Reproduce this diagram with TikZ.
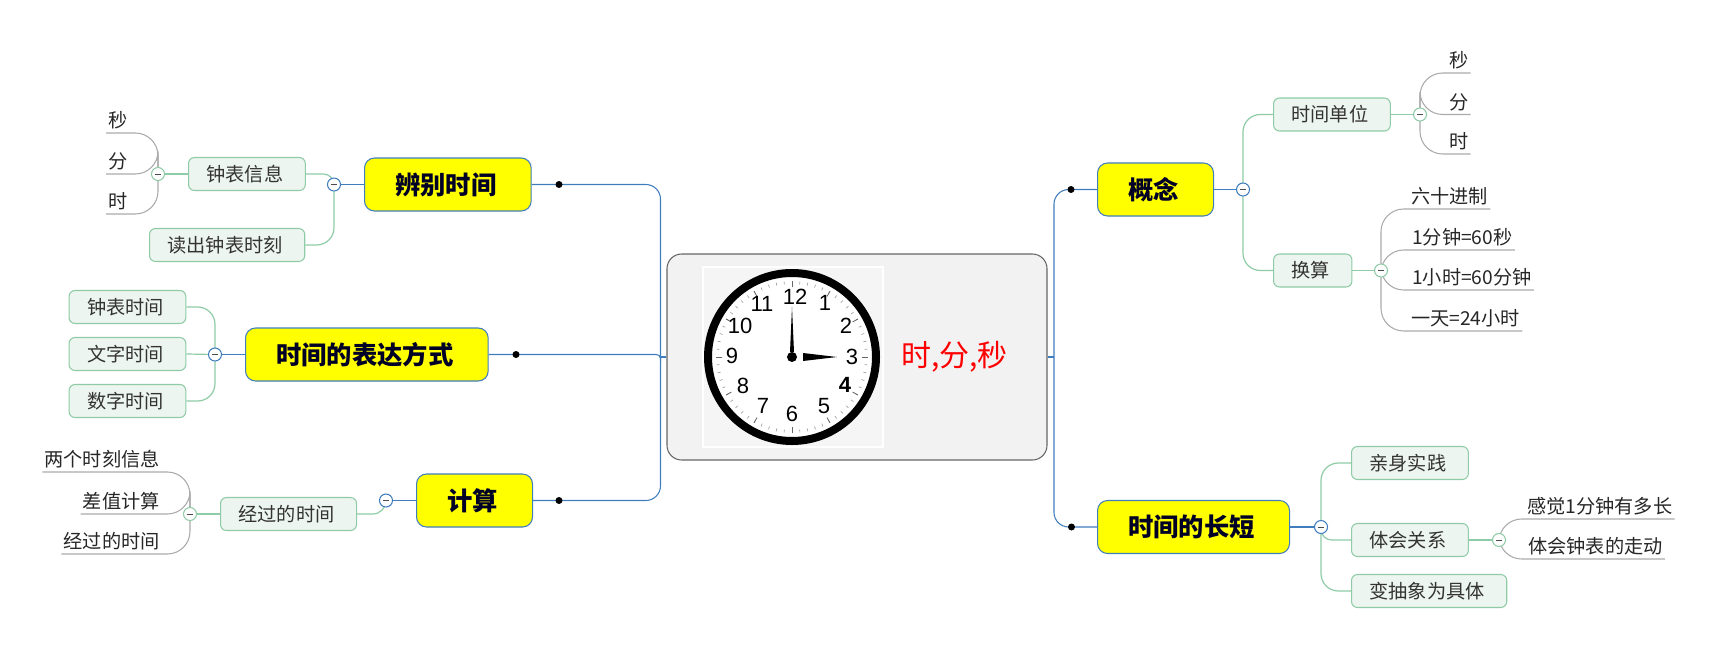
\documentclass[tikz,border=0pt]{standalone}
\usepackage{fontspec}
\setmainfont{Noto Sans CJK SC}
\newfontfamily\clockfont{Liberation Sans}
\usetikzlibrary{backgrounds}
\definecolor{bluebr}{HTML}{3F7DBD}
\definecolor{greenbr}{HTML}{8FCBA6}
\definecolor{graybr}{HTML}{ABABAB}
\definecolor{subfill}{HTML}{EDF5F0}
\definecolor{topicfill}{RGB}{255,255,0}
\tikzset{
  rootbox/.style={draw=black!60,fill=black!5,rounded corners=11,line width=0.8pt,minimum width=285,minimum height=154.5},
  shifted/.style={execute at begin node=\hspace*{-1.5pt},execute at end node=\hspace*{1.5pt}},
  topicbox/.style={shifted,draw=bluebr,fill=topicfill,rounded corners=7.5,line width=0.8pt,anchor=west,font=\fontsize{19}{22}\selectfont\bfseries,text=black!85!blue,inner xsep=24.5pt,inner ysep=0pt,minimum height=39.75pt},
  subbox/.style={shifted,draw=greenbr,fill=subfill,rounded corners=4.5,line width=0.8pt,anchor=west,font=\fontsize{14.4}{17}\selectfont,text=black!80,inner xsep=15pt,inner ysep=0pt,minimum height=24.75pt},
  leaf/.style={font=\fontsize{14.4}{17}\selectfont,text=black!85,inner xsep=1.5pt,inner ysep=1.5pt,text height=12pt,text depth=2.1pt},
  hub/.style={circle,fill=black,inner sep=0pt,minimum size=5.25pt},
  foldmark/.style={circle,fill=white,draw=#1,line width=0.8pt,inner sep=0pt,minimum size=9.75pt,
    path picture={\draw[line width=0.7pt,black!70] ([xshift=-2.4pt]path picture bounding box.center) -- ([xshift=2.4pt]path picture bounding box.center);}},
  mainbr/.style={draw=bluebr,line width=0.8pt,rounded corners=11},
  subbr/.style={draw=greenbr,line width=0.9pt,rounded corners=13},
  leafbr/.style={draw=graybr,line width=0.8pt,rounded corners=17},
}
\begin{document}
\begin{tikzpicture}[x=0.75pt,y=0.75pt,yscale=-1,xscale=1]
\useasboundingbox (0,0) rectangle (1718,664);

%Shape: central box
\node[rootbox] (central) at (857,357) {};
\coordinate (trunkl) at (660.5,357);
\coordinate (trunkr) at (1054,357);

%Shape: clock picture
\fill[black!4,draw=white,line width=1.5pt] (703,267) rectangle (883,447);
\draw[fill=white,line width=6pt] (792,357) circle [radius=84];
\foreach \a in {0,6,...,354}
  \draw[black!45,line width=0.4pt] (792,357) ++(\a:73) -- ++(\a:3);
\foreach \a in {0,30,...,330}
  \draw[black!60,line width=0.6pt] (792,357) ++(\a:70) -- ++(\a:6);
\foreach \n/\x/\y in {12/795/297,1/825/303,2/846/326,3/852/357,5/824/406,6/792/414,7/763/406,8/743/386,9/732/356,10/740/326,11/762/304}
  \node[font=\clockfont\fontsize{16.5}{18}\selectfont,inner sep=0pt] (num\n) at (\x,\y) {\n};
\node[font=\clockfont\fontsize{16.5}{18}\selectfont\bfseries,inner sep=0pt] (num4) at (845,385) {4};
\fill (792,307) -- (790,352) -- (794,352) -- cycle;
\fill (837,357) -- (803,353) -- (803,361) -- cycle;
\fill (792,357) circle [radius=5];

% Text Node
\node[anchor=west,inner sep=0pt,text=red,font=\fontsize{22.5}{26}\selectfont] (title) at (901,357) {时,分,秒};

% Text Node: main topics
\node[topicbox] (bianbie) at (364,184.5) {辨别时间};
\node[topicbox] (biaoda) at (245,354.5) {时间的表达方式};
\node[topicbox] (jisuan) at (416,500.5) {计算};
\node[topicbox] (gainian) at (1097,189.5) {概念};
\node[topicbox] (changduan) at (1097,527) {时间的长短};

% Text Node: sub topics
\node[subbox] (zhongbiao) at (188,174) {钟表信息};
\node[subbox] (duchu) at (149,245) {读出钟表时刻};
\node[subbox] (zbtime) at (68.5,307) {钟表时间};
\node[subbox] (wztime) at (68.5,354) {文字时间};
\node[subbox] (sztime) at (68.5,401) {数字时间};
\node[subbox] (jingguo) at (220,514) {经过的时间};
\node[subbox] (danwei) at (1273,114.5) {时间单位};
\node[subbox] (huansuan) at (1273,270.5) {换算};
\node[subbox] (qinshen) at (1351,463) {亲身实践};
\node[subbox] (tihui) at (1351,540) {体会关系};
\node[subbox] (bian) at (1351,591) {变抽象为具体};

% Text Node: leaves
\node[leaf,anchor=south west] (lmiao) at (106,133) {秒};
\node[leaf,anchor=south west] (lfen) at (106,174) {分};
\node[leaf,anchor=south west] (lshi) at (106,214) {时};
\node[leaf,anchor=south east] (liangge) at (162,472) {两个时刻信息};
\node[leaf,anchor=south east] (chazhi) at (162,514) {差值计算};
\node[leaf,anchor=south east] (jgtime) at (162,554) {经过的时间};
\node[leaf,anchor=south west] (rmiao) at (1447,73) {秒};
\node[leaf,anchor=south west] (rfen) at (1447,114.5) {分};
\node[leaf,anchor=south west] (rshi) at (1447,154) {时};
\node[leaf,anchor=south west] (liushi) at (1409,209) {六十进制};
\node[leaf,anchor=south west] (yifen) at (1410,250) {1分钟=60秒};
\node[leaf,anchor=south west] (yixiao) at (1410,290) {1小时=60分钟};
\node[leaf,anchor=south west] (yitian) at (1409,331) {一天=24小时};
\node[leaf,anchor=south west] (ganjue) at (1525,519) {感觉1分钟有多长};
\node[leaf,anchor=south west] (zoudong) at (1526,559) {体会钟表的走动};

%Shape: Circle
\node[hub] (hbian) at (559,184.5) {};
\node[hub] (hbiao) at (516,354.5) {};
\node[hub] (hji) at (559,500.5) {};
\node[hub] (hgai) at (1071,189.5) {};
\node[hub] (hchang) at (1071.5,527) {};
\node[foldmark=bluebr] (fbian) at (334,184.5) {};
\node[foldmark=bluebr] (fbiao) at (215,354.5) {};
\node[foldmark=bluebr] (fji) at (386,500.5) {};
\node[foldmark=bluebr] (fgai) at (1243,189.5) {};
\node[foldmark=bluebr] (fchang) at (1321,527) {};
\node[foldmark=greenbr] (fzhong) at (158,174) {};
\node[foldmark=greenbr] (fjing) at (190,514) {};
\node[foldmark=greenbr] (fdan) at (1420,114.5) {};
\node[foldmark=greenbr] (fhuan) at (1381,270.5) {};
\node[foldmark=greenbr] (fti) at (1499,540) {};

\begin{scope}[on background layer]
%Straight Lines
\draw[mainbr] (central.west) -- (trunkl);
\draw[mainbr] (central.east) -- (trunkr);
\draw[mainbr] (trunkl) |- (bianbie.east);
\draw[mainbr,rounded corners=3] (trunkl) |- (biaoda.east);
\draw[mainbr] (trunkl) |- (jisuan.east);
\draw[mainbr] (trunkr) |- (gainian.west);
\draw[mainbr] (trunkr) |- (changduan.west);
\draw[mainbr] (bianbie.west) -- (fbian.center);
\draw[mainbr] (biaoda.west) -- (fbiao.center);
\draw[mainbr] (jisuan.west) -- (fji.center);
\draw[mainbr] (gainian.east) -- (fgai.center);
\draw[mainbr] (changduan.east) -- (fchang.center);
\draw[subbr,rounded corners=8] (fbian.center) |- (zhongbiao.east);
\draw[subbr] (fbian.center) |- (duchu.east);
\draw[subbr] (fbiao.center) |- (zbtime.east);
\draw[subbr] (fbiao.center) -- (wztime.east);
\draw[subbr] (fbiao.center) |- (sztime.east);
\draw[subbr,rounded corners=10] (fji.center) |- (jingguo.east);
\draw[subbr] (fgai.center) |- (danwei.west);
\draw[subbr] (fgai.center) |- (huansuan.west);
\draw[subbr] (fchang.center) |- (qinshen.west);
\draw[subbr,rounded corners=8] (fchang.center) |- (tihui.west);
\draw[subbr] (fchang.center) |- (bian.west);
\draw[subbr] (zhongbiao.west) -- (fzhong.center);
\draw[subbr] (jingguo.west) -- (fjing.center);
\draw[subbr] (danwei.east) -- (fdan.center);
\draw[subbr] (huansuan.east) -- (fhuan.center);
\draw[subbr] (tihui.east) -- (fti.center);
\draw[leafbr] (fzhong.center) |- (lmiao.south west);
\draw[leafbr] (fzhong.center) |- (lfen.south west);
\draw[leafbr] (fzhong.center) |- (lshi.south west);
\draw[leafbr] (fjing.center) |- (liangge.south west);
\draw[leafbr] (fjing.center) |- (chazhi.south west);
\draw[leafbr] (fjing.center) |- (jgtime.south west);
\draw[leafbr] (fdan.center) |- (rmiao.south east);
\draw[leafbr] (fdan.center) |- (rfen.south east);
\draw[leafbr] (fdan.center) |- (rshi.south east);
\draw[leafbr] (fhuan.center) |- (liushi.south east);
\draw[leafbr] (fhuan.center) |- (yifen.south east);
\draw[leafbr] (fhuan.center) |- (yixiao.south east);
\draw[leafbr] (fhuan.center) |- (yitian.south east);
\draw[leafbr] (fti.center) |- (ganjue.south east);
\draw[leafbr] (fti.center) |- (zoudong.south east);
\end{scope}
\end{tikzpicture}
\end{document}
